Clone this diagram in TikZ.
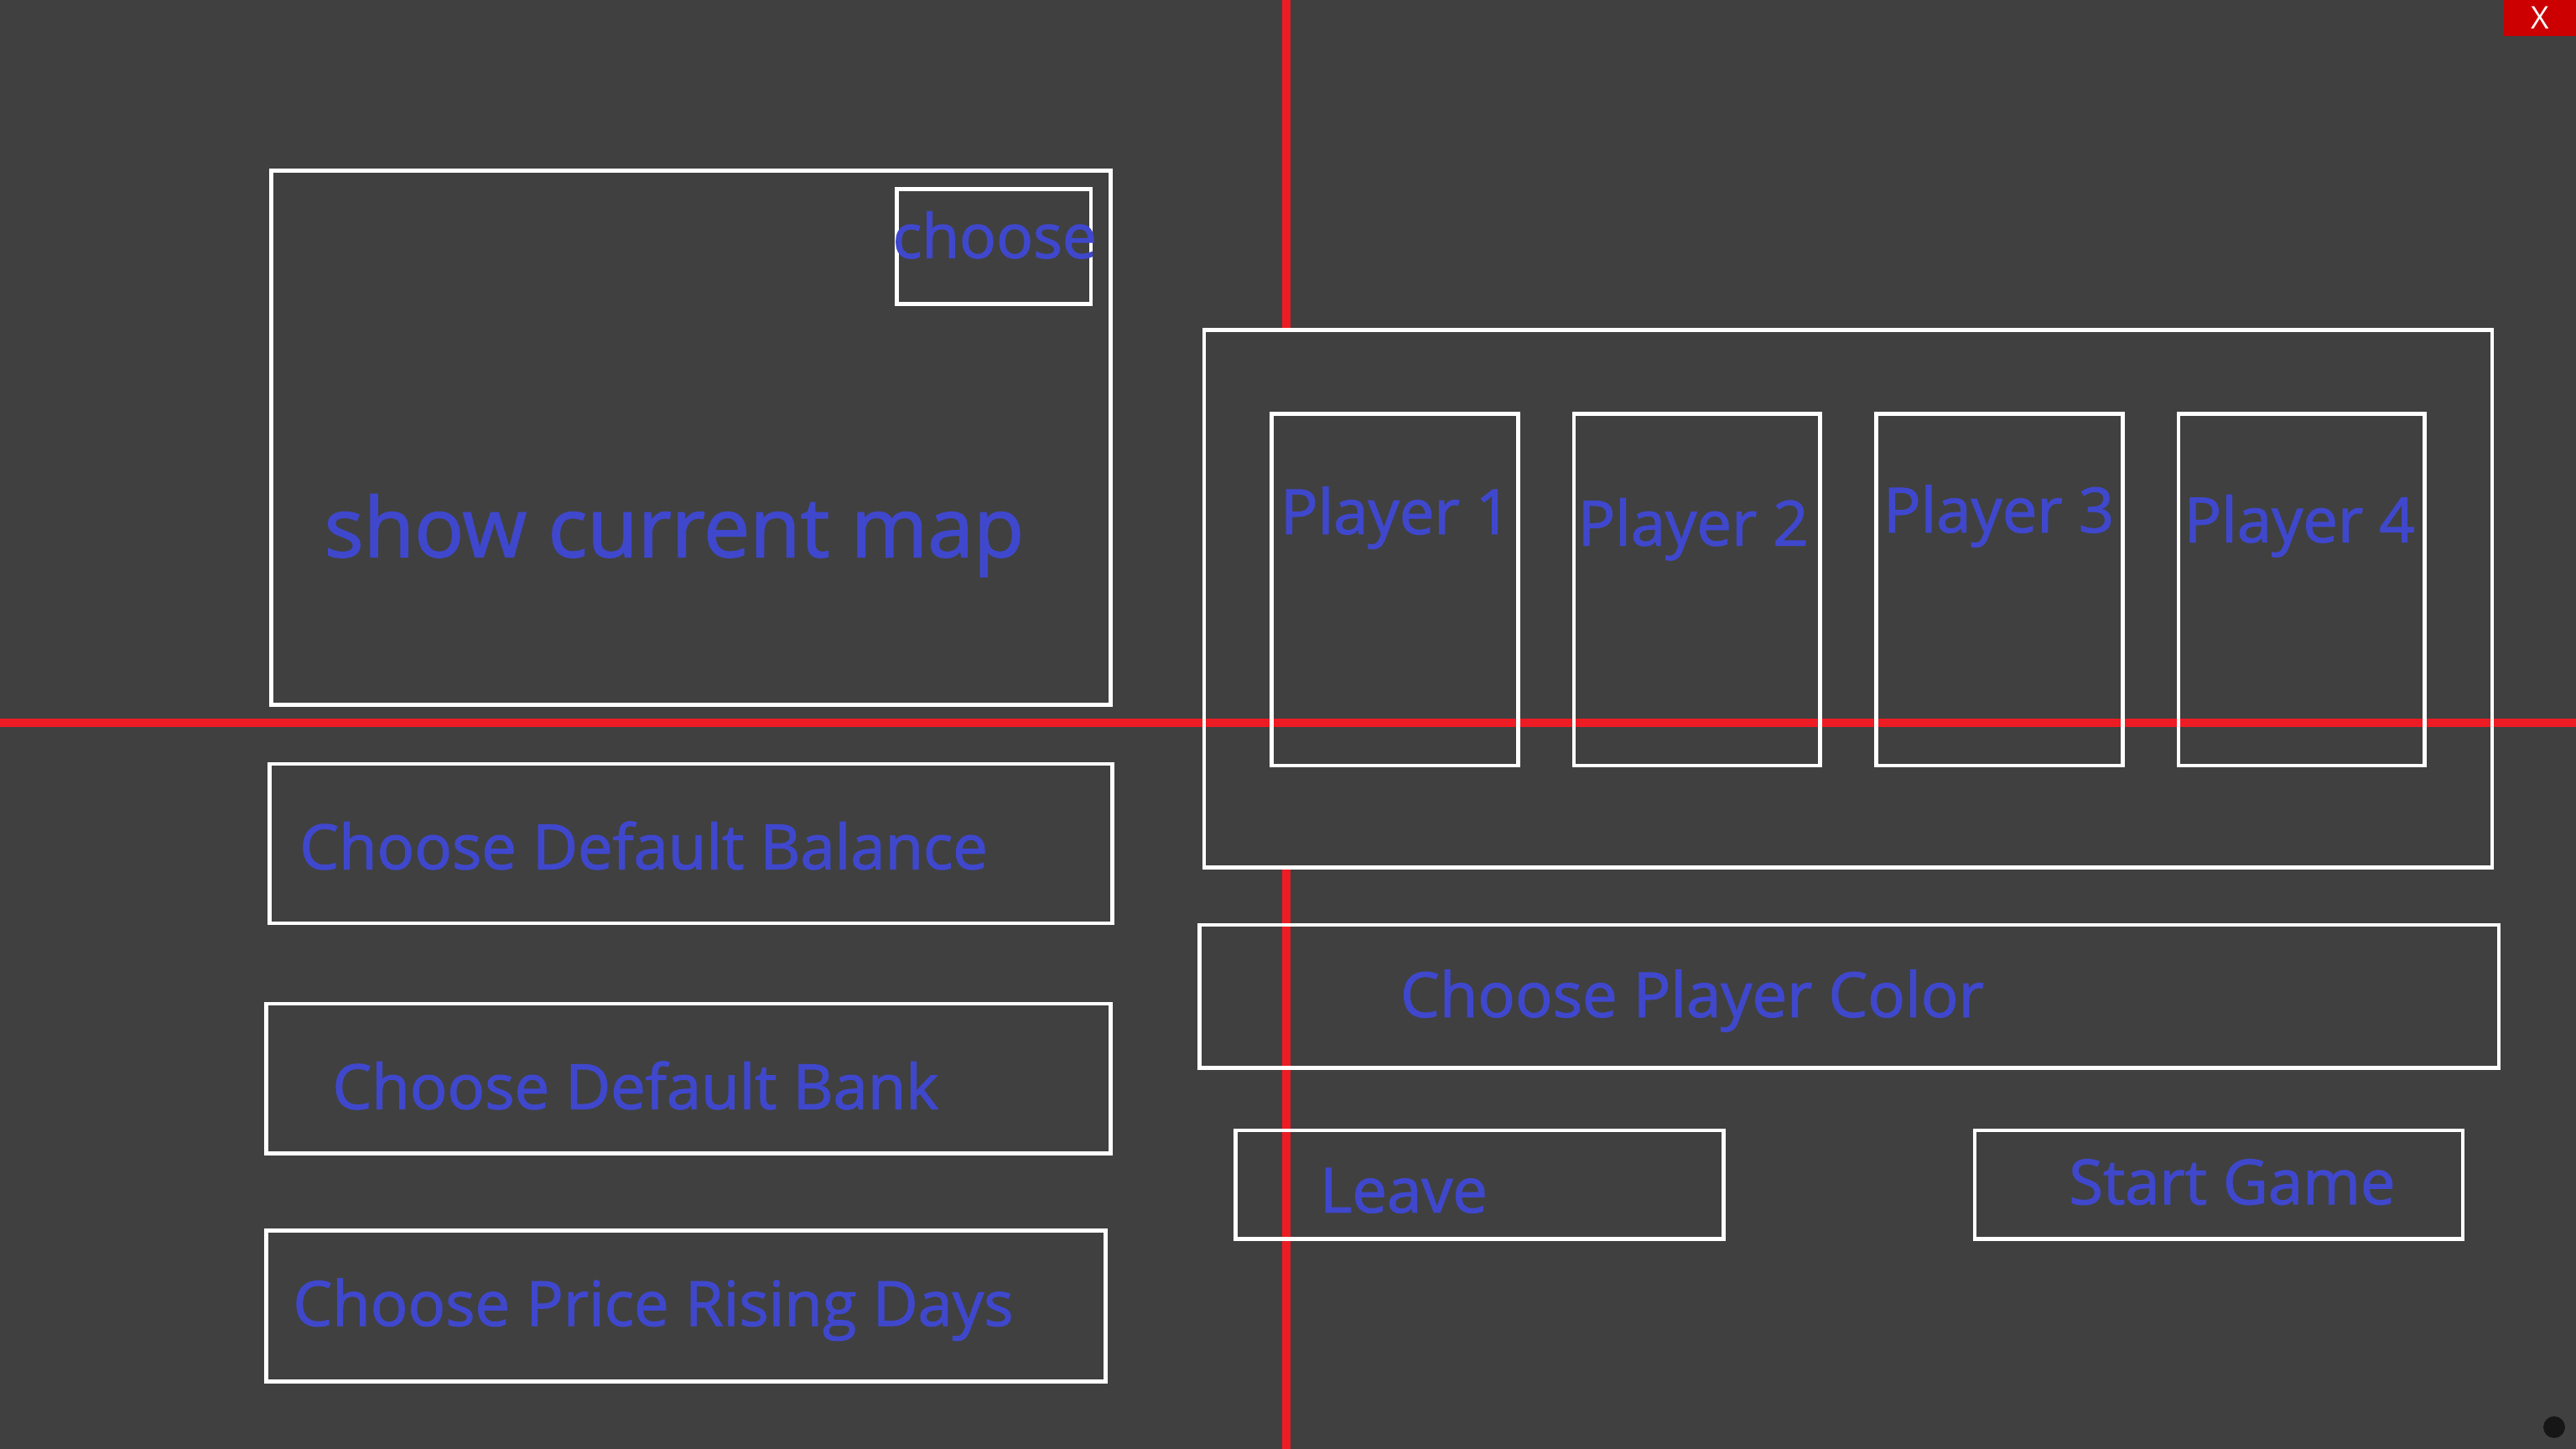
\documentclass[tikz,border=0pt]{standalone}
\usepackage{fontspec}
\setmainfont{Open Sans}
\newfontfamily\uifont{Open Sans}[FakeBold=1.6]
\usetikzlibrary{fit}

\definecolor{bgGray}{RGB}{64,64,64}
\definecolor{guideRed}{RGB}{237,28,36}
\definecolor{uiBlue}{RGB}{63,72,204}
\definecolor{closeRed}{RGB}{204,0,0}
\definecolor{dotBlack}{RGB}{22,22,22}

\tikzset{
    frame/.style={draw=white, line width=1.2pt, inner sep=0pt, outer sep=0pt},
    uitext/.style={text=uiBlue, font=\uifont\fontsize{18.9}{22}\selectfont, anchor=base west, inner sep=0pt},
    guide/.style={draw=guideRed, line width=2.5pt},
}

\begin{document}
\begin{tikzpicture}[x=0.5pt,y=0.5pt,yscale=-1,xscale=1]
    \useasboundingbox (0,0) rectangle (1568,882);
    \fill[bgGray] (0,0) rectangle (1568,882);

    %Straight Lines: vertical guide
    \coordinate (vTop) at (783,0);
    \coordinate (vBot) at (783,882);
    \draw[guide] (vTop) -- (vBot);

    %Shape: Rectangle, player panel (covers the guide)
    \node (panel) [fill=bgGray, inner sep=0pt, outer sep=0pt, fit={(733,201) (1517,528)}] {};

    %Straight Lines: horizontal guide
    \coordinate (hLeft) at (0,440);
    \coordinate (hRight) at (1568,440);
    \draw[guide] (hLeft) -- (hRight);

    \draw[frame] (panel.north west) rectangle (panel.south east);

    %Shape: Rectangle
    \node (map) [frame, fit={(165,104) (676,429)}] {};
    \node (chooseBox) [frame, fit={(546,115) (664,185)}] {};
    \node (balanceBox) [frame, fit={(164,465) (677,562)}] {};
    \node (bankBox) [frame, fit={(162,611) (676,702)}] {};
    \node (risingBox) [frame, fit={(162,749) (673,841)}] {};
    \node (colorBox) [frame, fit={(730,563) (1521,650)}] {};
    \node (leaveBox) [frame, fit={(752,688) (1049,754)}] {};
    \node (startBox) [frame, fit={(1202,688) (1499,754)}] {};

    %Shape: Rectangle, player cards
    \foreach \i/\x in {1/774,2/958,3/1142,4/1326}
        \node (player\i) [frame, fit={(\x,252) (\x+150,466)}] {};

    % Text Node
    \node (mapText) [uitext, font=\uifont\fontsize{25.1}{30}\selectfont] at (197,339) {show current map};
    \node (chooseText) [uitext, font=\uifont\fontsize{18.6}{22}\selectfont] at (543,157) {choose};
    \node (balanceText) [uitext] at (182,529) {Choose Default Balance};
    \node (bankText) [uitext] at (202,675) {Choose Default Bank};
    \node (risingText) [uitext] at (178,807) {Choose Price Rising Days};
    \node (p1Text) [uitext] at (779,325) {Player 1};
    \node (p2Text) [uitext] at (960,332) {Player 2};
    \node (p3Text) [uitext] at (1146,324) {Player 3};
    \node (p4Text) [uitext] at (1329,330) {Player 4};
    \node (colorText) [uitext] at (852,619) {Choose Player Color};
    \node (leaveText) [uitext] at (803,738) {Leave};
    \node (startText) [uitext] at (1259,733) {Start Game};

    % close button
    \node (closeBtn) [fill=closeRed, inner sep=0pt, outer sep=0pt, fit={(1524,0) (1568,22)}] {};
    \node (closeText) [text=white, font=\fontsize{9.5}{11}\selectfont, inner sep=0pt] at (closeBtn.center) {X};

    % corner dot
    \node (cornerDot) [circle, fill=dotBlack, inner sep=0pt, minimum size=6.6pt] at (1554.7,868.7) {};
\end{tikzpicture}
\end{document}
